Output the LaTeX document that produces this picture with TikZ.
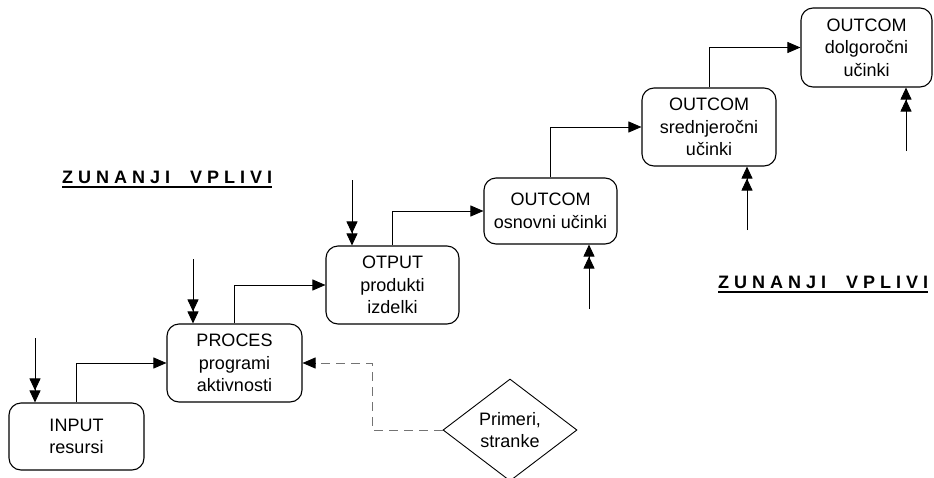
\documentclass[tikz,border=0pt]{standalone}
\usepackage{fontspec}
\setmainfont{Liberation Sans}
\usetikzlibrary{arrows.meta,shapes.geometric}

% spaced, bold heading for the outside influences
\newcommand\zunanjiText{Z\kern5pt U\kern5pt N\kern5pt A\kern5pt N\kern5pt J\kern5pt I\kern20pt V\kern5pt P\kern5pt L\kern5pt I\kern5pt V\kern5pt I}

\begin{document}
\begin{tikzpicture}[x=1pt,y=-1pt,
  stage/.style={draw, rounded corners=12pt, line width=1.1pt, inner sep=0pt,
    align=center, font=\fontsize{18}{22.5}\selectfont},
  flow/.style={line width=0.9pt, -{Triangle[length=13pt,width=11pt]}},
  ext/.style={line width=0.9pt,
    -{Triangle[length=12pt,width=11pt,sep=0pt]Triangle[length=12pt,width=11pt]}},
  hint/.style={draw=black!55, line width=1pt, dash pattern=on 9pt off 6pt},
  choice/.style={draw, diamond, line width=0.9pt, inner sep=0pt, align=center,
    minimum width=134pt, minimum height=102pt, font=\fontsize{18}{22.5}\selectfont},
  heading/.style={inner sep=0pt, anchor=base west, font=\bfseries\fontsize{18}{20}\selectfont}
]
\useasboundingbox (0,0) rectangle (934,477);

% the chain of stages
\node[stage, minimum width=135pt, minimum height=67pt] (in)   at (76.5,436.5) {INPUT\\resursi};
\node[stage, minimum width=135pt, minimum height=78pt] (proc) at (234.5,363) {PROCES\\programi\\aktivnosti};
\node[stage, minimum width=133pt, minimum height=78pt] (out)  at (392.5,285) {OTPUT\\produkti\\izdelki};
\node[stage, minimum width=133pt, minimum height=66pt] (oc1)  at (550.5,211) {OUTCOM\\osnovni učinki};
\node[stage, minimum width=134pt, minimum height=78pt] (oc2)  at (709,127) {OUTCOM\\srednjeročni\\učinki};
\node[stage, minimum width=131pt, minimum height=79pt] (oc3)  at (866.5,47.5) {OUTCOM\\dolgoročni\\učinki};

% examples and clients
\node[choice] (dia) at (510,430) {Primeri,\\stranke};

% flow between the stages
\draw[flow] (in.north)   |- (proc.west);
\draw[flow] (proc.north) |- (out.west);
\draw[flow] (out.north)  |- (oc1.west);
\draw[flow] (oc1.north)  |- (oc2.west);
\draw[flow] (oc2.north)  |- (oc3.west);

% outside influences acting on each stage
\coordinate (e1) at (35,338);
\coordinate (e2) at (193,259);
\coordinate (e3) at (352,180);
\coordinate (e4) at (589,309);
\coordinate (e5) at (747,230);
\coordinate (e6) at (906,151);
\draw[ext] (e1) -- (e1 |- in.north);
\draw[ext] (e2) -- (e2 |- proc.north);
\draw[ext] (e3) -- (e3 |- out.north);
\draw[ext] (e4) -- (e4 |- oc1.south);
\draw[ext] (e5) -- (e5 |- oc2.south);
\draw[ext] (e6) -- (e6 |- oc3.south);

% dashed feedback from the examples to the process (grey line, black head)
\coordinate (bend) at (372,363);
\draw[hint] (dia.west) -| (bend) -- ([xshift=12pt]proc.east);
\draw[line width=0.9pt, -{Triangle[length=13pt,width=11pt]}] ([xshift=13pt]proc.east) -- (proc.east);

% headings
\node[heading] (zv1) at (62,183) {\zunanjiText};
\node[heading] (zv2) at (718,288) {\zunanjiText};
\draw[line width=1.5pt] ([yshift=-4pt]zv1.base west) -- ([yshift=-4pt]zv1.base east);
\draw[line width=1.5pt] ([yshift=-4pt]zv2.base west) -- ([yshift=-4pt]zv2.base east);
\end{tikzpicture}
\end{document}
